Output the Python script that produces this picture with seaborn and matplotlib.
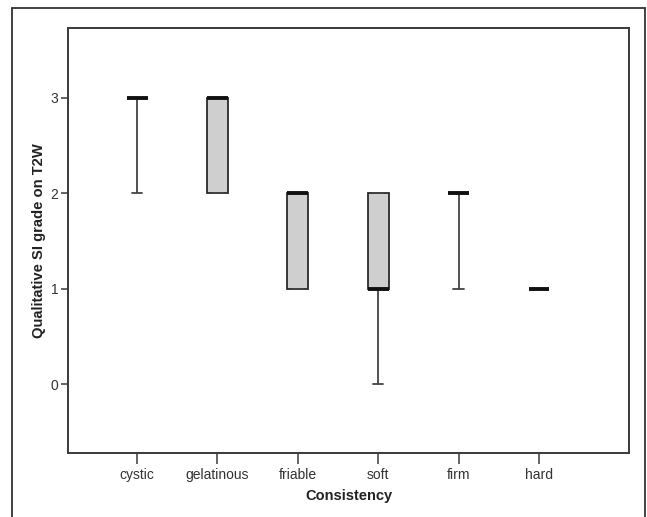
import numpy as np
import pandas as pd
import matplotlib
matplotlib.use("Agg")
import matplotlib.pyplot as plt
from matplotlib.lines import Line2D
import seaborn as sns

# Categories and raw grades (reconstructed so the box statistics match the picture)
categories = ["cystic", "gelatinous", "friable", "soft", "firm", "hard"]
cystic = [2, 3, 3, 3, 3, 3]
gelatinous = [2, 2, 3, 3, 3]
friable = [1, 1, 2, 2, 2]
soft = [0, 1, 1, 1, 2, 2, 2]
firm = [1, 2, 2, 2, 2, 2]
hard = [1, 1, 1]
y_ticks = [0, 1, 2, 3]

series = [cystic, gelatinous, friable, soft, firm, hard]
df = pd.DataFrame({
    "Consistency": np.repeat(categories, [len(s) for s in series]),
    "grade": np.concatenate(series),
})

sns.set_style("white")
plt.rcParams["font.family"] = ["Liberation Sans", "DejaVu Sans"]

W, H = 647, 517
fig = plt.figure(figsize=(W / 100, H / 100), dpi=100)
ax = fig.add_axes([68 / W, 1 - 453 / H, (629 - 68) / W, (453 - 28) / H])

line_c = "#2a2a2a"
sns.boxplot(
    data=df, x="Consistency", y="grade", order=categories,
    whis=(0, 100), width=0.26, color="#cfcfcf", saturation=1,
    linecolor=line_c, linewidth=1.3, showfliers=False, ax=ax,
    medianprops=dict(linewidth=2.8, color="#111111", solid_capstyle="butt"),
    whiskerprops=dict(linewidth=1.3, color="#444444"),
    capprops=dict(linewidth=1.3, color="#444444"),
)

ax.set_xlim(-0.86, 6.12)
ax.set_ylim(-0.72, 3.73)
ax.set_yticks(y_ticks)
ax.set_yticklabels([str(t) for t in y_ticks])

for s in ax.spines.values():
    s.set_visible(True)
    s.set_color("#3a3a3a")
    s.set_linewidth(1.4)

ax.tick_params(axis="x", direction="out", length=8, width=1.1, color="#3a3a3a",
               labelsize=10, labelcolor="#333333", pad=3, bottom=True)
ax.tick_params(axis="y", direction="out", length=5, width=1.1, color="#3a3a3a",
               labelsize=10, labelcolor="#333333", pad=2, left=True)

ax.set_xlabel("Consistency", fontsize=10.5, fontweight="bold", color="#222222", labelpad=5)
ax.set_ylabel("Qualitative SI grade on T2W", fontsize=10.6, fontweight="bold",
              color="#222222", labelpad=3)

# outer frame of the figure (left, top, right)
fx0, fy0, fx1 = 12 / W, 1 - 8 / H, 645 / W
for xs, ys in [([fx0, fx0], [0, fy0]), ([fx0, fx1], [fy0, fy0]), ([fx1, fx1], [fy0, 0])]:
    fig.add_artist(Line2D(xs, ys, transform=fig.transFigure, color="#333333", linewidth=1.3))

fig.savefig("out.png", dpi=100)
